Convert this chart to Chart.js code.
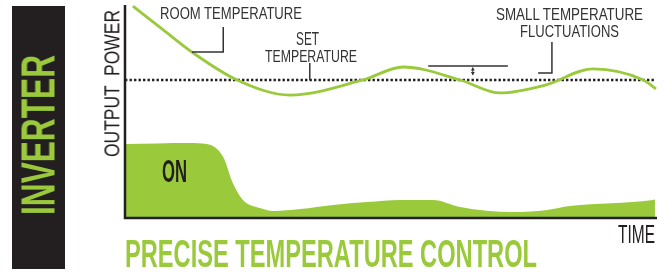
<!DOCTYPE html>
<html>
<head>
<meta charset="utf-8">
<script src="https://cdn.jsdelivr.net/npm/chart.js@4.4.0/dist/chart.umd.min.js"></script>
<style>
  html, body { margin: 0; padding: 0; background: #fff; }
  #wrap { position: relative; width: 670px; height: 274px; overflow: hidden; }
  #bar { position: absolute; left: 12px; top: 6px; width: 53px; height: 263px; background: #231f20; }
  canvas { position: absolute; left: 0; top: 0; }
  .lbl { position: absolute; left: 0; top: 0; white-space: nowrap; line-height: 1;
         font-family: "Liberation Sans", Arial, sans-serif; transform-origin: 0 0; }
</style>
</head>
<body>
<div id="wrap">
  <div id="bar"></div>
  <canvas id="grafica" width="670" height="274"></canvas>
</div>
<script>
// tiempo 0-100, valores 0-100 (escala sin unidades)
const roomTime = [1.5, 7.2, 12.6, 21.1, 31.1, 44.8, 52.4, 63.1, 70.6, 79.1, 88.1, 97.6, 100];
const roomTemp = [99.5, 88.3, 77.9, 64.8, 57.7, 64.8, 70.9, 64.8, 58.7, 62.4, 70.0, 64.8, 60.6];

const powerTime  = [0, 12.2, 15.4, 18.5, 20.3, 22.2, 25.4, 27.9, 33.0, 39.2, 45.6, 51.8, 58.0, 63.1, 73.1, 79.5, 83.8, 99.4, 99.8];
const powerValue = [34.7, 35.2, 34.7, 28.6, 16.4, 8.5, 4.7, 3.3, 4.2, 6.1, 7.5, 8.5, 8.5, 5.2, 2.8, 3.8, 5.6, 8.5, 8.7];

const setTime = [0, 100];
const setTemp = 64.8;

// lineas guia de las etiquetas (coordenadas de datos)
const leaderRoom  = [[18.5, 89.7], [18.5, 77.9], [12.6, 77.9]];
const leaderSet   = [[34.8, 72.8], [34.8, 64.8]];
const leaderFluct = [[80.4, 82.6], [80.4, 68.1], [77.8, 68.1]];
const bandFluct   = [[57.1, 71.4], [72.1, 71.4]];
const arrowFluct  = [65.5, 71.4, 67.1];

const verde = '#9aca3c';
const negro = '#231f20';

const anotaciones = {
  id: 'anotaciones',
  afterDatasetsDraw(chart) {
    const { ctx, chartArea: a, scales: { x, y } } = chart;
    ctx.save();
    ctx.strokeStyle = negro;
    ctx.lineWidth = 2.5;
    ctx.beginPath();
    ctx.moveTo(a.left, a.top);
    ctx.lineTo(a.left, a.bottom);
    ctx.lineTo(a.right + 1, a.bottom);
    ctx.stroke();

    ctx.strokeStyle = '#333';
    ctx.lineWidth = 1.5;
    [leaderRoom, leaderSet, leaderFluct, bandFluct].forEach(path => {
      ctx.beginPath();
      path.forEach(([px, py], i) => {
        const X = x.getPixelForValue(px), Y = y.getPixelForValue(py);
        i ? ctx.lineTo(X, Y) : ctx.moveTo(X, Y);
      });
      ctx.stroke();
    });
    // flecha doble
    const ax = x.getPixelForValue(arrowFluct[0]);
    const y1 = y.getPixelForValue(arrowFluct[1]) + 1.5;
    const y2 = y.getPixelForValue(arrowFluct[2]);
    ctx.lineWidth = 1;
    ctx.beginPath();
    ctx.moveTo(ax, y1); ctx.lineTo(ax, y2);
    ctx.stroke();
    ctx.fillStyle = '#333';
    ctx.beginPath();
    ctx.moveTo(ax, y1); ctx.lineTo(ax - 2, y1 + 3); ctx.lineTo(ax + 2, y1 + 3); ctx.closePath();
    ctx.moveTo(ax, y2); ctx.lineTo(ax - 2, y2 - 3); ctx.lineTo(ax + 2, y2 - 3); ctx.closePath();
    ctx.fill();
    ctx.restore();
  }
};

const ctx = document.getElementById('grafica').getContext('2d');
new Chart(ctx, {
  type: 'line',
  data: {
    datasets: [
      {
        label: 'Room temperature',
        data: roomTime.map((t, i) => ({ x: t, y: roomTemp[i] })),
        borderColor: verde,
        borderWidth: 2.8,
        pointRadius: 0,
        cubicInterpolationMode: 'monotone',
        clip: 6
      },
      {
        label: 'Set temperature',
        data: setTime.map(t => ({ x: t, y: setTemp })),
        borderColor: negro,
        borderWidth: 2.4,
        borderDash: [2.4, 2.1],
        pointRadius: 0
      },
      {
        label: 'Output power',
        data: powerTime.map((t, i) => ({ x: t, y: powerValue[i] })),
        borderWidth: 0,
        backgroundColor: verde,
        fill: 'origin',
        pointRadius: 0,
        cubicInterpolationMode: 'monotone'
      }
    ]
  },
  options: {
    responsive: false,
    animation: false,
    layout: { padding: { left: 125, right: 14, top: 5, bottom: 56 } },
    plugins: { legend: { display: false }, tooltip: { enabled: false } },
    scales: {
      x: { type: 'linear', min: 0, max: 100, display: false },
      y: { min: 0, max: 100, display: false }
    }
  },
  plugins: [anotaciones]
});

// textos
const wrap = document.getElementById('wrap');
const textos = [
  { text: 'ROOM TEMPERATURE', size: 16, x: 160, y: 20, len: 142, color: '#333' },
  { text: 'SET', size: 17.5, x: 296, y: 46, len: 23, color: '#333' },
  { text: 'TEMPERATURE', size: 17, x: 265, y: 62, len: 92, color: '#333' },
  { text: 'SMALL TEMPERATURE', size: 17, x: 496, y: 20, len: 147, color: '#333' },
  { text: 'FLUCTUATIONS', size: 16.5, x: 520, y: 37, len: 99, color: '#333' },
  { text: 'ON', size: 31, bold: true, x: 162, y: 182, len: 25, color: negro },
  { text: 'TIME', size: 25, x: 618, y: 243, len: 37, color: negro },
  { text: 'PRECISE TEMPERATURE CONTROL', size: 38, bold: true, x: 125, y: 267, len: 412, color: verde },
  { text: 'INVERTER', size: 49, bold: true, rot: true, x: 55, y: 215, len: 160, color: verde },
  { text: 'OUTPUT POWER', size: 22, rot: true, x: 120, y: 157, len: 147, ws: 6, color: negro }
];
textos.forEach(t => {
  const el = document.createElement('div');
  el.className = 'lbl';
  el.textContent = t.text;
  el.style.fontSize = t.size + 'px';
  el.style.fontWeight = t.bold ? 700 : 400;
  el.style.color = t.color;
  if (t.ws) el.style.wordSpacing = t.ws + 'px';
  wrap.appendChild(el);
  const s = t.len / el.getBoundingClientRect().width;
  const b = 0.847 * t.size;
  el.style.transform = `translate(${t.x}px, ${t.y}px) ${t.rot ? 'rotate(-90deg)' : ''} scale(${s}, 1) translate(0, ${-b}px)`;
});
</script>
</body>
</html>
